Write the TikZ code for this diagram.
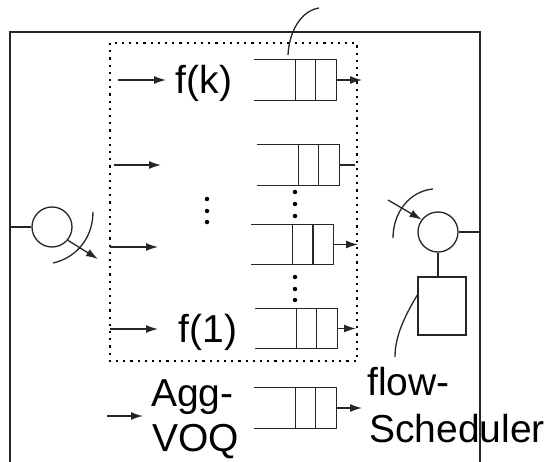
\documentclass[tikz,border=0pt]{standalone}
\usepackage{fontspec}
\setmainfont{Liberation Sans}
\usetikzlibrary{arrows.meta}
\tikzset{
  ln/.style={line width=1.3pt, draw=black!85},
  arr/.style={ln, -{Latex[length=12pt,width=8pt]}},
  qbox/.style={rectangle, draw=none, minimum width=82pt, minimum height=40pt, inner sep=0pt},
  lbl/.style={font=\fontsize{39}{40}\selectfont, inner sep=0pt},
  dotbox/.style={line width=2.2pt, dash pattern=on 2.2pt off 5pt},
  bigdot/.style={circle, fill=black, inner sep=0pt, minimum size=4.5pt},
  srv/.style={circle, ln, minimum size=40pt, inner sep=0pt},
}
\newcommand\qdraw[3][1.3pt]{%
  \node[qbox] (#2) at #3 {};
  \draw[ln] (#2.north west) -- (#2.north east) -- (#2.south east) -- (#2.south west);
  \draw[ln] ([xshift=-41pt]#2.north east) -- ([xshift=-41pt]#2.south east);
  \draw[ln, line width=#1] ([xshift=-21pt]#2.north east) -- ([xshift=-21pt]#2.south east);
}
\begin{document}
\begin{tikzpicture}[x=1pt, y=-1pt]
\useasboundingbox (0,0) rectangle (553,462);
% outer frame (open at the bottom)
\coordinate (obl) at (10,462);
\coordinate (otl) at (10,32);
\coordinate (otr) at (480,32);
\coordinate (obr) at (480,462);
\draw[ln] (obl) -- (otl) -- (otr) -- (obr);
% dotted box
\coordinate (dtl) at (110,43);
\coordinate (dbr) at (357,361);
\draw[dotbox] (dtl) rectangle (dbr);
% queues
\qdraw{q1}{(295,80)}
\qdraw{q2}{(298,165)}
\qdraw[2.2pt]{q3}{(292.5,244.5)}
\qdraw{q4}{(296,328.5)}
\qdraw{q5}{(295,408)}
% outputs of queues
\coordinate (o1) at (362,80);
\coordinate (o2) at (355,165);
\coordinate (o3) at (358,244.5);
\coordinate (o4) at (356,328.5);
\coordinate (o5) at (362,408);
\draw[arr] (q1.east) -- (o1);
\draw[ln] (q2.east) -- (o2);
\draw[arr] (q3.east) -- (o3);
\draw[arr] (q4.east) -- (o4);
\draw[arr] (q5.east) -- (o5);
% labels
\node[lbl] (fk) at (204,83) {f(k)};
\node[lbl] (f1) at (208,332) {f(1)};
\node[lbl, anchor=base west] (agg) at (151,406) {Agg-};
\node[lbl, anchor=base west] (voq) at (152,451) {VOQ};
\node[lbl, anchor=base west] (flow) at (367,395) {flow-};
\node[lbl, anchor=base west] (sched) at (369,442) {Scheduler};
% input arrows
\coordinate (i1) at (118,80);   \coordinate (e1) at (166,80);
\coordinate (i2) at (114,165);  \coordinate (e2) at (161,165);
\coordinate (i3) at (110,247);  \coordinate (e3) at (158,247);
\coordinate (i4) at (110,329);  \coordinate (e4) at (158,329);
\coordinate (i5) at (107,416);  \coordinate (e5) at (143,416);
\draw[arr] (i1) -- (e1);
\draw[arr] (i2) -- (e2);
\draw[arr] (i3) -- (e3);
\draw[arr] (i4) -- (e4);
\draw[arr] (i5) -- (e5);
% vertical ellipses
\node[bigdot] (da1) at (207,199) {};
\node[bigdot] (da2) at (207,211) {};
\node[bigdot] (da3) at (207,222) {};
\node[bigdot] (db1) at (295,192) {};
\node[bigdot] (db2) at (295,204) {};
\node[bigdot] (db3) at (295,216) {};
\node[bigdot] (dc1) at (295,277) {};
\node[bigdot] (dc2) at (295,289) {};
\node[bigdot] (dc3) at (295,300) {};
% left server
\node[srv] (ls) at (52,227) {};
\coordinate (lw) at (10,227);
\draw[ln] (lw) -- (ls.west);
\coordinate (la1) at (93,212);
\coordinate (la2) at (53,263);
\draw[ln] (la1) .. controls (93,238) and (76,258) .. (la2);
\coordinate (lt) at (98,259);
\draw[arr] (ls.-40) -- (lt);
% right server and scheduler
\node[srv] (rs) at (438,232) {};
\coordinate (re) at (480,232);
\draw[ln] (rs.east) -- (re);
\node[rectangle, ln, minimum width=48pt, minimum height=58pt, inner sep=0pt] (sb) at (442,306) {};
\draw[ln] (rs.south) -- (rs.south |- sb.north);
\coordinate (ra1) at (433,189);
\coordinate (ra2) at (393,238);
\draw[ln] (ra1) .. controls (410,191) and (393,212) .. (ra2);
\coordinate (rt0) at (388,200);
\draw[arr] (rt0) -- (rs.143);
% leader curves
\coordinate (t1) at (319,8);
\coordinate (t2) at (288,55);
\draw[ln] (t1) .. controls (300,11) and (289,33) .. (t2);
\coordinate (s2) at (395,357);
\draw[ln] ([yshift=11pt]sb.west) .. controls (401,322) and (395,340) .. (s2);
\end{tikzpicture}
\end{document}
